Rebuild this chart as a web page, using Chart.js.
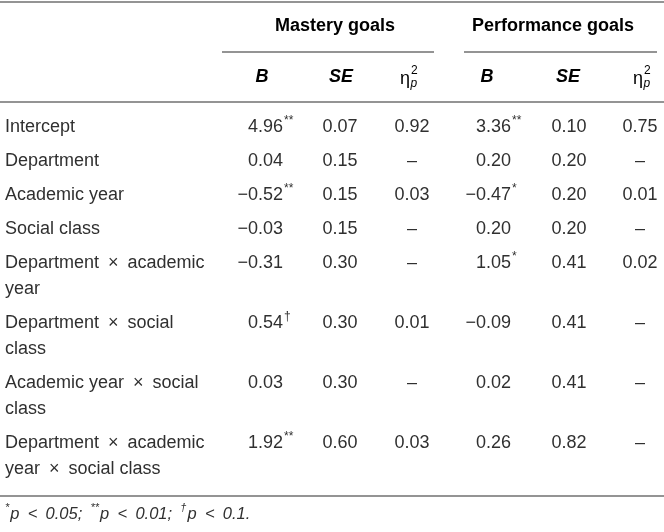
<!DOCTYPE html>
<html>
<head>
<meta charset="utf-8">
<script src="https://cdn.jsdelivr.net/npm/chart.js@4.4.1/dist/chart.umd.min.js"></script>
<style>
    html, body { margin: 0; padding: 0; background: #fff; }
    #wrap { width: 664px; height: 532px; }
</style>
</head>
<body>
<div id="wrap"><canvas id="regTable"></canvas></div>
<script>
// table content
var terms = [
    ["Intercept"],
    ["Department"],
    ["Academic year"],
    ["Social class"],
    ["Department \u00d7 academic", "year"],
    ["Department \u00d7 social", "class"],
    ["Academic year \u00d7 social", "class"],
    ["Department \u00d7 academic", "year \u00d7 social class"]
];
var groups = ["Mastery goals", "Performance goals"];

var masteryB    = ["4.96", "0.04", "\u22120.52", "\u22120.03", "\u22120.31", "0.54", "0.03", "1.92"];
var masteryBSig = ["**", "", "**", "", "", "\u2020", "", "**"];
var masterySE   = ["0.07", "0.15", "0.15", "0.15", "0.30", "0.30", "0.30", "0.60"];
var masteryEta  = ["0.92", "\u2013", "0.03", "\u2013", "\u2013", "0.01", "\u2013", "0.03"];

var perfB    = ["3.36", "0.20", "\u22120.47", "0.20", "1.05", "\u22120.09", "0.02", "0.26"];
var perfBSig = ["**", "", "*", "", "*", "", "", ""];
var perfSE   = ["0.10", "0.20", "0.20", "0.20", "0.41", "0.41", "0.41", "0.82"];
var perfEta  = ["0.75", "\u2013", "0.01", "\u2013", "0.02", "\u2013", "\u2013", "\u2013"];

var footnote = [
    ["*", true], ["p < 0.05; ", false],
    ["**", true], ["p < 0.01; ", false],
    ["\u2020", true], ["p < 0.1.", false]
];

var FONT = "'Liberation Sans', Arial, Helvetica, sans-serif";
var TEXT = "#303030";
var RULE = "#707070";

// column anchors in scale units
var columns = [
    { vals: masteryB, sig: masteryBSig, x: 283, align: "right", head: "B", hx: 262 },
    { vals: masterySE, x: 340, align: "center", head: "SE", hx: 341 },
    { vals: masteryEta, x: 412, align: "center", head: "eta", hx: 405 },
    { vals: perfB, sig: perfBSig, x: 511, align: "right", head: "B", hx: 487 },
    { vals: perfSE, x: 569, align: "center", head: "SE", hx: 568 },
    { vals: perfEta, x: 640, align: "center", head: "eta", hx: 638 }
];

// a little more air round "x" and "<", like the typeset original
function spaced(s) {
    return s.replace(/ ([\u00d7<]) /g, "\u2002$1\u2002").replace(/; /g, ";\u2002");
}

var tablePlugin = {
    id: 'tablePlugin',
    afterDraw: function (chart) {
        var ctx = chart.ctx;
        var sx = chart.scales.x, sy = chart.scales.y;
        function X(v) { return sx.getPixelForValue(v); }
        function Y(v) { return sy.getPixelForValue(v); }

        function rule(x1, x2, y) {
            ctx.save();
            ctx.strokeStyle = RULE;
            ctx.lineWidth = 1.4;
            ctx.beginPath();
            ctx.moveTo(X(x1), Y(y));
            ctx.lineTo(X(x2), Y(y));
            ctx.stroke();
            ctx.restore();
        }

        function text(str, x, y, font, align, color) {
            ctx.font = font;
            ctx.textAlign = align || "left";
            ctx.textBaseline = "middle";
            ctx.fillStyle = color || TEXT;
            ctx.fillText(str, X(x), Y(y));
        }

        ctx.save();

        // rules
        rule(0, 664, 2);
        rule(222, 434, 52);
        rule(464, 657, 52);
        rule(0, 664, 102);
        rule(0, 664, 496);

        // group headers
        text(groups[0], 335, 26, "bold 18px " + FONT, "center", "#000");
        text(groups[1], 553, 26, "bold 18px " + FONT, "center", "#000");

        // column headers
        columns.forEach(function (col) {
            if (col.head === "eta") {
                ctx.font = "18px " + FONT;
                var w = ctx.measureText("\u03b7").width;
                text("\u03b7", col.hx - w / 2, 79, "18px " + FONT, "left", "#000");
                text("2", col.hx + w / 2 + 1, 71, "12px " + FONT, "left", "#000");
                text("p", col.hx + w / 2 + 0.5, 84, "italic 12px " + FONT, "left", "#000");
            } else {
                text(col.head, col.hx, 77, "italic bold 18px " + FONT, "center", "#000");
            }
        });

        // body rows
        var y = 127;
        terms.forEach(function (lines, i) {
            lines.forEach(function (ln, k) {
                text(spaced(ln), 5, y + k * 26, "18px " + FONT, "left");
            });
            columns.forEach(function (col) {
                text(col.vals[i], col.x, y, "18px " + FONT, col.align);
                if (col.sig && col.sig[i]) {
                    text(col.sig[i], col.x + 1, y - 6, "12px " + FONT, "left");
                }
            });
            y += 26 * lines.length + 8;
        });

        // footnote
        var fx = 5;
        footnote.forEach(function (part) {
            var str = part[1] ? part[0] : spaced(part[0]);
            var f = part[1] ? "italic 11px " + FONT : "italic 16.5px " + FONT;
            text(str, fx, part[1] ? 508 : 514, f, "left");
            ctx.font = f;
            fx += ctx.measureText(str).width / (sx.right - sx.left) * 664;
            if (part[1]) fx += 1;
        });

        ctx.restore();
    }
};

new Chart(document.getElementById('regTable').getContext('2d'), {
    type: 'scatter',
    data: { datasets: [{ data: [] }] },
    options: {
        responsive: true,
        maintainAspectRatio: false,
        animation: false,
        layout: { padding: 0 },
        plugins: { legend: { display: false }, tooltip: { enabled: false } },
        scales: {
            x: { type: 'linear', min: 0, max: 664, display: false },
            y: { type: 'linear', min: 0, max: 532, reverse: true, display: false }
        }
    },
    plugins: [tablePlugin]
});
</script>
</body>
</html>
